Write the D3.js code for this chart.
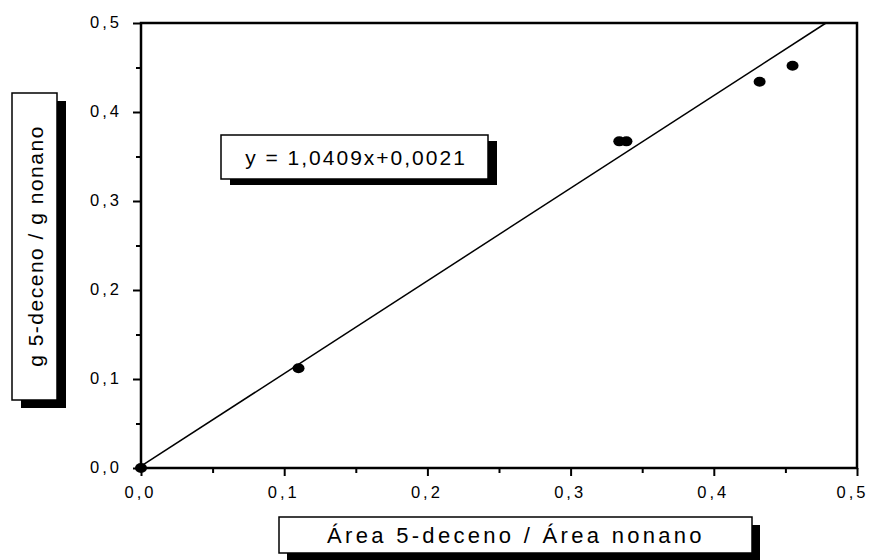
<!DOCTYPE html>
<html>
<head>
<meta charset="utf-8">
<script src="https://cdn.jsdelivr.net/npm/d3@7"></script>
<style>
  html, body { margin: 0; padding: 0; background: #fff; }
  svg { display: block; font-family: "Liberation Sans", Arial, sans-serif; }
</style>
</head>
<body>
<svg id="chart" width="869" height="560"></svg>
<script>
// Calibration data: area ratio (x) vs mass ratio (y)
const areaRatio = [0, 0.110, 0.334, 0.339, 0.432, 0.455];
const massRatio = [0, 0.112, 0.367, 0.367, 0.434, 0.452];

// Linear fit y = a*x + b
const fitSlope = 1.0409;
const fitIntercept = 0.0021;

const xTicks = [0, 0.1, 0.2, 0.3, 0.4, 0.5];
const yTicks = [0, 0.1, 0.2, 0.3, 0.4, 0.5];
const minorTicks = [0.05, 0.15, 0.25, 0.35, 0.45];

const xTitle = "Área 5-deceno / Área nonano";
const yTitle = "g 5-deceno / g nonano";

const svg = d3.select("#chart");
const plotLeft = 141, plotRight = 857, plotTop = 23, plotBottom = 468;
const fontStack = "'Liberation Sans', Arial, sans-serif";

const x = d3.scaleLinear().domain([0, 0.5]).range([plotLeft, plotRight]);
const y = d3.scaleLinear().domain([0, 0.5]).range([plotBottom, plotTop]);

const fmt = v => d3.format(".1f")(v).replace(".", ",");

// Minor ticks (no labels)
svg.append("g")
  .attr("transform", `translate(0,${plotBottom})`)
  .call(d3.axisBottom(x).tickValues(minorTicks).tickSize(5).tickFormat(""))
  .call(g => g.select(".domain").remove())
  .call(g => g.selectAll("line").attr("stroke", "#000").attr("stroke-width", 2));
svg.append("g")
  .attr("transform", `translate(${plotLeft},0)`)
  .call(d3.axisLeft(y).tickValues(minorTicks).tickSize(5).tickFormat(""))
  .call(g => g.select(".domain").remove())
  .call(g => g.selectAll("line").attr("stroke", "#000").attr("stroke-width", 2));

// Major ticks with labels
const xAxis = svg.append("g")
  .attr("transform", `translate(0,${plotBottom})`)
  .call(d3.axisBottom(x).tickValues(xTicks).tickSize(8).tickPadding(10).tickFormat(fmt))
  .attr("font-size", 16.5)
  .attr("font-family", fontStack);
xAxis.select(".domain").remove();
xAxis.selectAll("line").attr("stroke", "#000").attr("stroke-width", 2);
xAxis.selectAll("text")
  .attr("fill", "#000")
  .attr("letter-spacing", "3px")
  .attr("dx", d => d === 0.5 ? "-5px" : "-1px");

const yAxis = svg.append("g")
  .attr("transform", `translate(${plotLeft},0)`)
  .call(d3.axisLeft(y).tickValues(yTicks).tickSize(8).tickPadding(11).tickFormat(fmt))
  .attr("font-size", 16.5)
  .attr("font-family", fontStack);
yAxis.select(".domain").remove();
yAxis.selectAll("line").attr("stroke", "#000").attr("stroke-width", 2);
yAxis.selectAll("text")
  .attr("fill", "#000")
  .attr("letter-spacing", "3px")
  .attr("dy", "0.3em");

// Plot frame
svg.append("rect")
  .attr("x", plotLeft).attr("y", plotTop)
  .attr("width", plotRight - plotLeft).attr("height", plotBottom - plotTop)
  .attr("fill", "none").attr("stroke", "#000").attr("stroke-width", 2.5);

// Regression line, clipped at the top of the frame
const xEnd = (0.5 - fitIntercept) / fitSlope;
svg.append("line")
  .attr("x1", x(0)).attr("y1", y(fitIntercept))
  .attr("x2", x(xEnd)).attr("y2", y(0.5))
  .attr("stroke", "#000").attr("stroke-width", 1.5);

// Data points
svg.append("g").selectAll("ellipse")
  .data(areaRatio.map((v, i) => [v, massRatio[i]]))
  .join("ellipse")
  .attr("cx", d => x(d[0]))
  .attr("cy", d => y(d[1]))
  .attr("rx", 6).attr("ry", 5)
  .attr("fill", "#000");

// Boxed label with a drop shadow
function shadowBox(bx, by, bw, bh, off) {
  svg.append("rect")
    .attr("x", bx + off[0]).attr("y", by + off[1])
    .attr("width", bw).attr("height", bh)
    .attr("fill", "#000");
  svg.append("rect")
    .attr("x", bx).attr("y", by)
    .attr("width", bw).attr("height", bh)
    .attr("fill", "#fff").attr("stroke", "#000").attr("stroke-width", 1.5);
}

// Equation box
const eqText = `y = ${String(fitSlope).replace(".", ",")}x+${fitIntercept.toFixed(4).replace(".", ",")}`;
shadowBox(221, 135, 267, 44, [9, 6]);
svg.append("text")
  .attr("x", 356).attr("y", 165)
  .attr("text-anchor", "middle")
  .style("font-size", "21px")
  .style("letter-spacing", "2px")
  .text(eqText);

// X axis title
shadowBox(279, 517, 473, 36, [8, 8]);
svg.append("text")
  .attr("x", 516).attr("y", 543)
  .attr("text-anchor", "middle")
  .style("font-size", "22px")
  .style("letter-spacing", "3.3px")
  .text(xTitle);

// Y axis title
shadowBox(12, 93, 45, 307, [9, 8]);
svg.append("text")
  .attr("transform", "translate(43,246) rotate(-90)")
  .attr("text-anchor", "middle")
  .style("font-size", "21px")
  .style("letter-spacing", "1.5px")
  .text(yTitle);
</script>
</body>
</html>
